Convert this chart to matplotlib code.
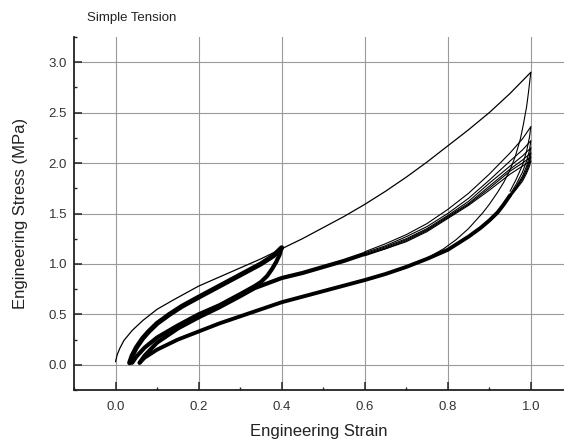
import matplotlib
matplotlib.use("Agg")
import matplotlib.pyplot as plt
from matplotlib.ticker import MultipleLocator

plt.rcParams['font.family'] = ['Liberation Sans', 'DejaVu Sans']

# ---- data ----
# initial loading (thin): to 0.4 and then on to 1.0
load_e = [0, 0.004, 0.01, 0.02, 0.04, 0.066, 0.1, 0.138, 0.2, 0.25, 0.3, 0.35, 0.4,
          0.45, 0.5, 0.55, 0.6, 0.65, 0.7, 0.75, 0.8, 0.85, 0.9, 0.95, 1.0]
load_s = [0.03, 0.10, 0.16, 0.24, 0.34, 0.44, 0.55, 0.64, 0.78, 0.87, 0.96, 1.05, 1.15,
          1.25, 1.36, 1.47, 1.59, 1.72, 1.86, 2.01, 2.17, 2.33, 2.50, 2.69, 2.90]

# small-cycle reloading band (to 0.4)
rel1_e = [0.034, 0.04, 0.05, 0.065, 0.08, 0.1, 0.13, 0.16, 0.2, 0.25, 0.3, 0.35, 0.38, 0.4]
rel1_s = [0.02, 0.09, 0.17, 0.26, 0.33, 0.41, 0.50, 0.58, 0.67, 0.78, 0.89, 1.00, 1.08, 1.16]

# small-cycle unloading band (from 0.4)
unl1_e = [0.4, 0.395, 0.387, 0.377, 0.365, 0.35, 0.335, 0.3, 0.25, 0.2, 0.15, 0.1, 0.07, 0.05, 0.04]
unl1_s = [1.16, 1.09, 1.02, 0.95, 0.88, 0.82, 0.78, 0.70, 0.59, 0.50, 0.39, 0.27, 0.17, 0.08, 0.02]

# large-cycle reloading: common part, then per-cycle tails
rel2_e = [0.058, 0.07, 0.1, 0.15, 0.2, 0.25, 0.3, 0.335, 0.4, 0.45, 0.5, 0.55, 0.6]
rel2_s = [0.02, 0.09, 0.22, 0.36, 0.47, 0.57, 0.68, 0.76, 0.86, 0.91, 0.97, 1.03, 1.10]
tail_e = [0.6, 0.65, 0.7, 0.75, 0.8, 0.85, 0.9, 0.95, 0.98, 1.0]
tail_s = [
    [1.12, 1.20, 1.29, 1.40, 1.54, 1.70, 1.89, 2.10, 2.24, 2.36],
    [1.11, 1.18, 1.27, 1.37, 1.50, 1.65, 1.83, 2.02, 2.13, 2.22],
    [1.10, 1.17, 1.25, 1.35, 1.48, 1.62, 1.80, 1.97, 2.07, 2.15],
    [1.09, 1.16, 1.24, 1.34, 1.47, 1.60, 1.77, 1.94, 2.03, 2.10],
    [1.09, 1.15, 1.23, 1.33, 1.46, 1.59, 1.75, 1.92, 2.00, 2.06],
    [1.08, 1.15, 1.22, 1.32, 1.45, 1.58, 1.73, 1.89, 1.97, 2.02],
]

# first unloading from the 2.9 peak
unl0_e = [1.0, 0.995, 0.99, 0.982, 0.975, 0.963, 0.95, 0.935, 0.92, 0.9, 0.885, 0.85, 0.82, 0.79, 0.76]
unl0_s = [2.90, 2.72, 2.56, 2.38, 2.24, 2.07, 1.93, 1.81, 1.71, 1.59, 1.51, 1.35, 1.24, 1.15, 1.08]

# per-cycle unloading tails near 1.0, then common lower band
utail_e = [1.0, 0.997, 0.99, 0.98, 0.965, 0.95]
utail_s = [
    [2.36, 2.26, 2.12, 1.98, 1.84, 1.72],
    [2.22, 2.13, 2.02, 1.91, 1.79, 1.69],
    [2.15, 2.07, 1.97, 1.87, 1.77, 1.68],
    [2.10, 2.03, 1.94, 1.85, 1.76, 1.67],
    [2.06, 2.00, 1.92, 1.84, 1.75, 1.67],
    [2.02, 1.97, 1.90, 1.82, 1.74, 1.66],
]
unl2_e = [0.95, 0.935, 0.92, 0.9, 0.88, 0.85, 0.8, 0.75, 0.7, 0.65, 0.6, 0.5, 0.4, 0.35,
          0.3, 0.25, 0.2, 0.15, 0.1, 0.07, 0.058]
unl2_s = [1.68, 1.59, 1.51, 1.43, 1.36, 1.27, 1.14, 1.05, 0.97, 0.90, 0.84, 0.73, 0.62, 0.55,
          0.48, 0.41, 0.33, 0.25, 0.15, 0.07, 0.02]

x_ticks = [0.0, 0.2, 0.4, 0.6, 0.8, 1.0]
y_ticks = [0.0, 0.5, 1.0, 1.5, 2.0, 2.5, 3.0]

# ---- figure ----
fig = plt.figure(figsize=(5.64, 4.42), dpi=100)
ax = fig.add_axes([74/564, 52/442, 490/564, 353/442])

kw = dict(color='black', solid_joinstyle='round', solid_capstyle='round')
ax.plot(load_e, load_s, lw=0.9, **kw)
ax.plot(rel1_e, rel1_s, lw=3.6, **kw)
ax.plot(unl1_e, unl1_s, lw=3.0, **kw)
ax.plot(rel2_e, rel2_s, lw=3.0, **kw)
for ts in tail_s:
    ax.plot(tail_e, ts, lw=0.8, **kw)
ax.plot(unl0_e, unl0_s, lw=0.8, **kw)
for us in utail_s:
    ax.plot(utail_e, us, lw=0.8, **kw)
ax.plot(unl2_e, unl2_s, lw=2.8, **kw)

ax.set_xlim(-0.1, 1.08)
ax.set_ylim(-0.25, 3.25)
ax.set_xticks(x_ticks)
ax.set_yticks(y_ticks)
ax.set_xticklabels([f"{v:.1f}" for v in x_ticks])
ax.set_yticklabels([f"{v:.1f}" for v in y_ticks])
ax.xaxis.set_minor_locator(MultipleLocator(0.1))
ax.yaxis.set_minor_locator(MultipleLocator(0.25))

ax.grid(True, which='major', color='#9a9a9a', lw=0.8)
ax.set_axisbelow(True)
for s in ['top', 'right']:
    ax.spines[s].set_visible(False)
for s in ['left', 'bottom']:
    ax.spines[s].set_linewidth(1.3)
    ax.spines[s].set_color('#222222')

ax.tick_params(which='major', direction='in', length=5.5, width=1.1,
               labelsize=9.5, labelcolor='#333333', color='#222222')
ax.tick_params(which='minor', direction='in', length=2.5, width=1.0, color='#222222')
ax.tick_params(axis='x', which='major', pad=8)
ax.tick_params(axis='y', which='major', pad=5)

ax.set_xlabel('Engineering Strain', fontsize=12, color='#222222', labelpad=8)
ax.set_ylabel('Engineering Stress (MPa)', fontsize=12, color='#222222', labelpad=15)
fig.text(87/564, 1 - 18/442, 'Simple Tension', fontsize=9.5, color='#222222',
         ha='left', va='center')

fig.savefig('out.png', dpi=100)
